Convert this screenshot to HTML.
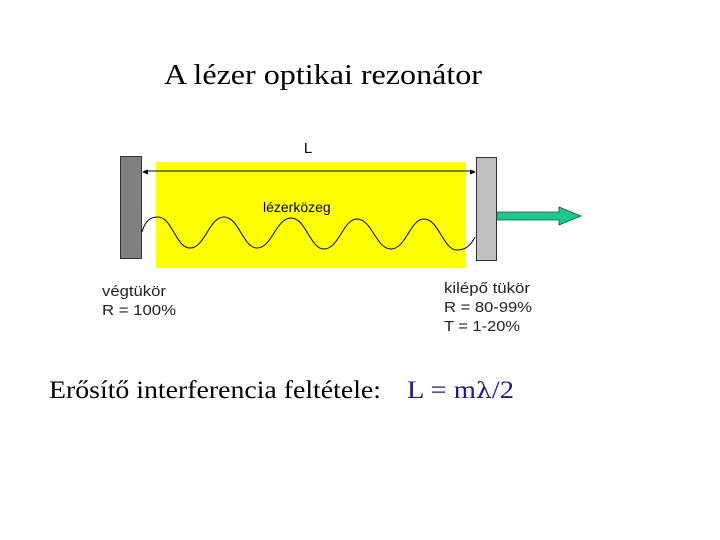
<!DOCTYPE html>
<html><head><meta charset="utf-8"><style>
html,body{margin:0;padding:0;background:#fff;width:720px;height:540px;overflow:hidden}
</style></head><body>
<svg width="720" height="540" viewBox="0 0 720 540" xmlns="http://www.w3.org/2000/svg">
<rect width="720" height="540" fill="#fff"/>
<text x="164" y="84" font-family="Liberation Serif, serif" font-size="28" textLength="318" lengthAdjust="spacingAndGlyphs">A lézer optikai rezonátor</text>
<rect x="156" y="162" width="310" height="106" fill="#ffff00"/>
<rect x="120.5" y="156.5" width="21" height="102" fill="#808080" stroke="#333" stroke-width="1"/>
<rect x="476.5" y="157.5" width="20" height="103" fill="#c0c0c0" stroke="#333" stroke-width="1"/>
<text x="308" y="153" font-family="Liberation Sans, sans-serif" font-size="15" text-anchor="middle">L</text>
<line x1="144" y1="171" x2="474" y2="171" stroke="#000" stroke-width="1"/>
<path d="M142,172 l6,-2.5 v5 z M476,172 l-6,-2.5 v5 z" fill="#000"/>
<text x="263" y="212" font-family="Liberation Sans, sans-serif" font-size="14">lézerközeg</text>
<path d="M142,232 C145,221 150,217 158,217 C172,217 176,248 190,248 C205,248 209,217 224,217 C239,217 243,248 257,248 C272,248 276,218 291,218 C306,218 310,249 324,249 C339,249 343,219 357,219 C372,219 376,249 391,249 C406,249 410,219 424,219 C439,219 443,250 457,250 C466,250 471,245 475,237" fill="none" stroke="#000" stroke-width="1"/>
<path d="M497,212 H559 V207 L581,216 L559,225 V220 H497 Z" fill="#1ec88e" stroke="#0a5a40" stroke-width="0.8"/>
<g font-family="Liberation Sans, sans-serif" font-size="15" fill="#222" lengthAdjust="spacingAndGlyphs">
<text x="102" y="296" textLength="64" lengthAdjust="spacingAndGlyphs">végtükör</text>
<text x="102" y="315" textLength="74" lengthAdjust="spacingAndGlyphs">R = 100%</text>
<text x="444" y="293" textLength="86" lengthAdjust="spacingAndGlyphs">kilépő tükör</text>
<text x="444" y="312" textLength="88" lengthAdjust="spacingAndGlyphs">R = 80-99%</text>
<text x="444" y="331" textLength="76" lengthAdjust="spacingAndGlyphs">T = 1-20%</text>
</g>
<text x="49" y="398" font-family="Liberation Serif, serif" font-size="25" textLength="332" lengthAdjust="spacingAndGlyphs">Erősítő interferencia feltétele:</text>
<text x="407" y="398" font-family="Liberation Serif, serif" font-size="25" fill="#1a1aa0" textLength="107" lengthAdjust="spacingAndGlyphs">L = m<tspan font-family="DejaVu Serif, serif" font-size="22">λ</tspan>/2</text>
</svg>
</body></html>
